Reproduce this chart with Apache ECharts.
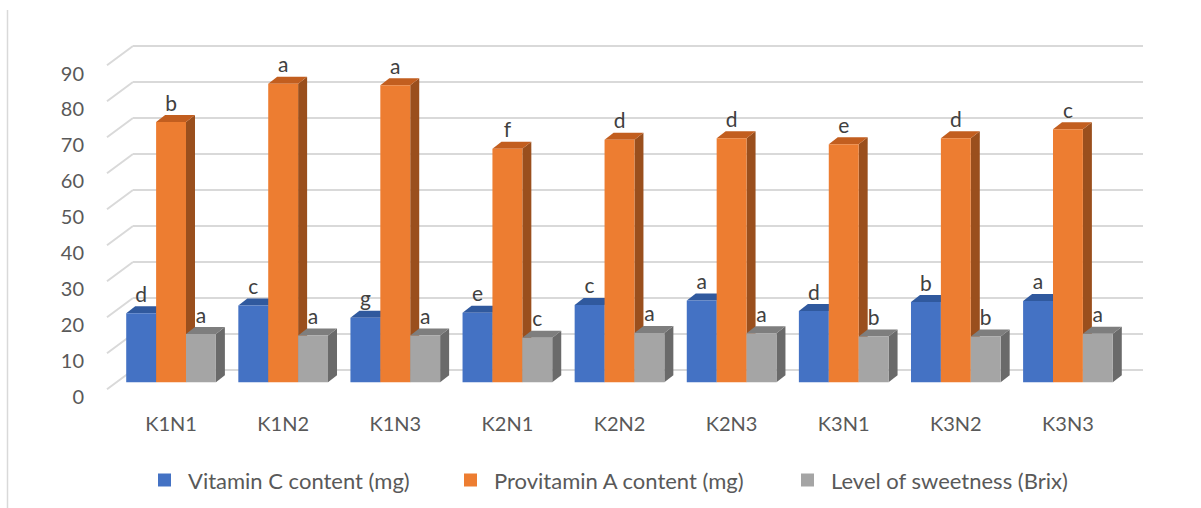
<!DOCTYPE html>
<html>
<head>
<meta charset="utf-8">
<script src="https://cdn.jsdelivr.net/npm/echarts@6/dist/echarts.min.js"></script>
<style>
  html, body { margin: 0; padding: 0; background: #ffffff; }
  #chart { width: 1201px; height: 508px; }
</style>
</head>
<body>
<div id="chart"></div>
<script>
// Treatments on the category axis
const categories = ['K1N1', 'K1N2', 'K1N3', 'K2N1', 'K2N2', 'K2N3', 'K3N1', 'K3N2', 'K3N3'];

// Measured values per treatment
const vitaminC    = [19.2, 21.3, 17.9, 19.3, 21.5, 22.7, 19.8, 22.3, 22.6];
const provitaminA = [72.3, 82.9, 82.5, 64.9, 67.4, 67.8, 66.1, 67.8, 70.3];
const sweetness   = [13.4, 13.0, 13.0, 12.4, 13.7, 13.6, 12.7, 12.7, 13.5];

// Significance letters shown above each bar
const vitaminCLetters    = ['d', 'c', 'g', 'e', 'c', 'a', 'd', 'b', 'a'];
const provitaminALetters = ['b', 'a', 'a', 'f', 'd', 'd', 'e', 'd', 'c'];
const sweetnessLetters   = ['a', 'a', 'a', 'c', 'a', 'a', 'b', 'b', 'a'];

// Value-axis ticks
const yTicks = [0, 10, 20, 30, 40, 50, 60, 70, 80, 90];

const seriesNames = ['Vitamin C content (mg)', 'Provitamin A content (mg)', 'Level of sweetness (Brix)'];

const FONT = 'Lato, "Open Sans", sans-serif';
const DEPTH_X = 9, DEPTH_Y = -7;        // bar depth (pseudo-3D)
const WALL_DX = -26, WALL_DY = 19.3;     // floor edge from back wall to front

const palettes = [
  { front: '#4472C4', top: '#30599E', side: '#2B4E8C' },
  { front: '#ED7D31', top: '#C25E1F', side: '#9A4F1D' },
  { front: '#A5A5A5', top: '#7E7E7E', side: '#6A6A6A' }
];

function barRenderer(slot, pal, letters) {
  return function (params, api) {
    const idx = api.value(0);
    const val = api.value(1);
    const base = api.coord([idx, 0]);
    const topPt = api.coord([idx, val]);
    const band = api.size([1, 0])[0];
    const w = band * 0.8 / 3;
    const x0 = base[0] + (slot - 1.5) * w;
    const x1 = x0 + w;
    const yb = base[1];
    const yt = topPt[1];
    return {
      type: 'group',
      children: [
        {
          type: 'polygon',
          shape: { points: [[x1, yt], [x1 + DEPTH_X, yt + DEPTH_Y], [x1 + DEPTH_X, yb + DEPTH_Y], [x1, yb]] },
          style: { fill: pal.side }
        },
        {
          type: 'polygon',
          shape: { points: [[x0, yt], [x1, yt], [x1 + DEPTH_X, yt + DEPTH_Y], [x0 + DEPTH_X, yt + DEPTH_Y]] },
          style: { fill: pal.top }
        },
        {
          type: 'rect',
          shape: { x: x0, y: yt, width: w, height: yb - yt },
          style: { fill: pal.front }
        },
        {
          type: 'text',
          x: (x0 + x1) / 2,
          y: yt - 20,
          style: {
            text: letters[params.dataIndex],
            fill: '#404040',
            fontSize: 21,
            fontFamily: FONT,
            align: 'center',
            verticalAlign: 'middle'
          }
        }
      ]
    };
  };
}

function barSeries(k, values, letters) {
  return {
    name: seriesNames[k],
    type: 'custom',
    xAxisIndex: 0,
    yAxisIndex: 0,
    itemStyle: { color: palettes[k].front },
    renderItem: barRenderer(k, palettes[k], letters),
    encode: { x: 0, y: 1 },
    data: values.map((v, i) => [i, v])
  };
}

function legendAt(left, k) {
  return {
    left: left,
    top: 469,
    padding: 0,
    data: [seriesNames[k]],
    icon: 'rect',
    itemWidth: 13,
    itemHeight: 13,
    textStyle: { fontSize: 22, fontFamily: FONT, color: '#595959', padding: [0, 0, 0, 12] }
  };
}

const chart = echarts.init(document.getElementById('chart'), null, { renderer: 'svg' });

chart.setOption({
  animation: false,
  backgroundColor: '#ffffff',
  graphic: [{
    type: 'line',
    shape: { x1: 7.5, y1: 10, x2: 7.5, y2: 508 },
    style: { stroke: '#d9d9d9', lineWidth: 1.5 }
  }],
  legend: [legendAt(158, 0), legendAt(464, 1), legendAt(801, 2)],
  grid: [
    { left: 115, right: 77, top: 58.3, bottom: 125.7 },   // bar plane
    { left: 133, right: 58, top: 46, bottom: 138 },       // back wall
    { left: 92, right: 77, top: 72.5, bottom: 112.5 }     // value labels
  ],
  xAxis: [
    {
      gridIndex: 0, type: 'category', data: categories,
      axisLine: { show: false }, axisTick: { show: false },
      axisLabel: { margin: 31, fontSize: 20, fontFamily: FONT, color: '#595959' }
    },
    { gridIndex: 1, type: 'category', data: categories, show: false },
    { gridIndex: 2, type: 'category', data: categories, show: false }
  ],
  yAxis: [
    { gridIndex: 0, type: 'value', min: 0, max: 90, interval: 10, show: false },
    {
      gridIndex: 1, type: 'value', min: 0, max: 90, interval: 10,
      axisLine: { show: false }, axisTick: { show: false }, axisLabel: { show: false },
      splitLine: { show: true, lineStyle: { color: '#d9d9d9', width: 2 } }
    },
    {
      gridIndex: 2, type: 'value', min: 0, max: 90, interval: 10,
      axisLine: { show: false }, axisTick: { show: false }, splitLine: { show: false },
      axisLabel: { margin: 8, fontSize: 20, fontFamily: FONT, color: '#595959' }
    }
  ],
  series: [
    {
      // side-wall guides running from the back wall to the front edge
      type: 'custom',
      xAxisIndex: 1,
      yAxisIndex: 1,
      silent: true,
      renderItem: function (params, api) {
        const p = api.coord([0, api.value(1)]);
        const band = api.size([1, 0])[0];
        const xl = p[0] - band / 2;
        return {
          type: 'line',
          shape: { x1: xl, y1: p[1], x2: xl + WALL_DX, y2: p[1] + WALL_DY },
          style: { stroke: '#d9d9d9', lineWidth: 2 }
        };
      },
      encode: { x: 0, y: 1 },
      data: yTicks.map(v => [0, v])
    },
    barSeries(0, vitaminC, vitaminCLetters),
    barSeries(1, provitaminA, provitaminALetters),
    barSeries(2, sweetness, sweetnessLetters)
  ]
});
</script>
</body>
</html>
